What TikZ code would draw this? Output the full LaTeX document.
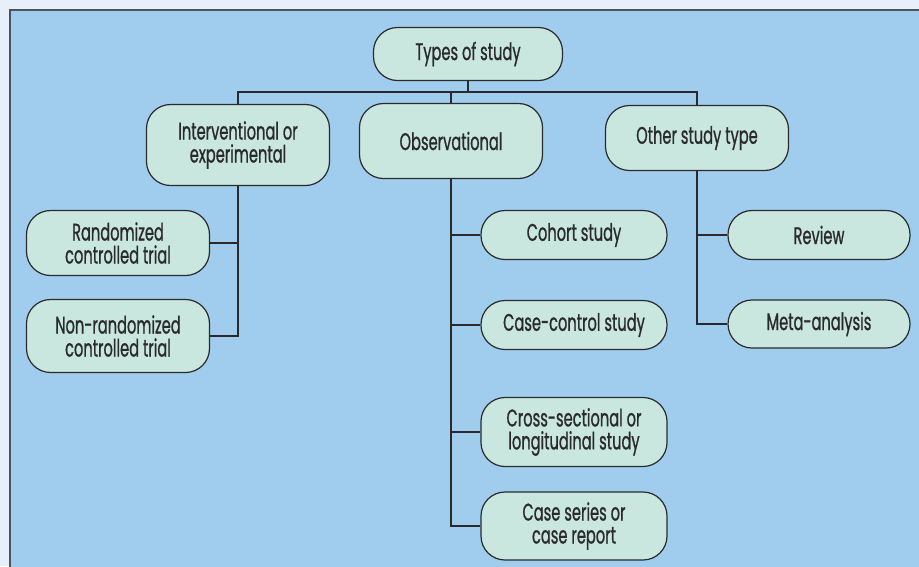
\documentclass[tikz,border=0pt]{standalone}
\usepackage{fontspec}
\setmainfont{Poppins}[FakeStretch=0.61,FakeBold=0.8]
\usetikzlibrary{calc}
\definecolor{pagebg}{HTML}{E7F0FA}
\definecolor{panelbg}{HTML}{A0CDEE}
\definecolor{panelline}{HTML}{4B545C}
\definecolor{boxfill}{HTML}{C9E7DF}
\definecolor{inkdark}{HTML}{2A2A2C}

\begin{document}
\begin{tikzpicture}[x=1pt,y=-1pt,
  studybox/.style={draw=inkdark,fill=boxfill,line width=1.2pt,rounded corners=24pt,
    minimum width=183pt,align=center,text=inkdark,inner sep=0pt,
    font=\fontsize{24}{23}\selectfont},
  link/.style={draw=inkdark,line width=1.2pt}]
  % 背景与面板
  \useasboundingbox (0,0) rectangle (919,566);
  \fill[pagebg] (0,0) rectangle (919,566);
  \fill[panelbg] (10,10) rectangle (925,572);
  \draw[panelline,line width=2pt] (10,572) -- (10,10) -- (925,10);
  % 第一层
  \node[studybox,minimum width=189pt,minimum height=53pt] (root) at (468,54) {Types of study};
  % 第二层
  \node[studybox,minimum height=81pt] (interv) at (238,145) {Interventional or\\experimental};
  \node[studybox,minimum height=75pt] (observ) at (451,141) {Observational};
  \node[studybox,minimum height=65pt] (other) at (697,138) {Other study type};
  % 第三层
  \node[studybox,minimum height=65pt] (rct) at (118,243) {Randomized\\controlled trial};
  \node[studybox,minimum height=73pt] (nrct) at (118,336) {Non-randomized\\controlled trial};
  \node[studybox,minimum width=186pt,minimum height=49pt] (cohort) at (574,235) {Cohort study};
  \node[studybox,minimum width=186pt,minimum height=49pt] (casectl) at (574,325) {Case-control study};
  \node[studybox,minimum width=186pt,minimum height=69pt] (cross) at (574,432) {Cross-sectional or\\longitudinal study};
  \node[studybox,minimum width=186pt,minimum height=68pt] (series) at (574,526) {Case series or\\case report};
  \node[studybox,minimum width=182pt,minimum height=49pt] (review) at (819,235) {Review};
  \node[studybox,minimum width=182pt,minimum height=48pt] (meta) at (819,324) {Meta-analysis};
  % 总线
  \coordinate (bus) at (0,92);
  \draw[link] (root.south) -- (root.south |- bus);
  \draw[link] (interv.north) |- (bus -| other.north) -- (other.north);
  \draw[link] (observ.north |- bus) -- (observ.north);
  % 分支
  \draw[link] (interv.south) |- (nrct.east);
  \draw[link] (interv.south |- rct.east) -- (rct.east);
  \draw[link] (observ.south) |- (series.west);
  \foreach \kid in {cohort,casectl,cross}
    \draw[link] (observ.south |- \kid.west) -- (\kid.west);
  \draw[link] (other.south) |- (meta.west);
  \draw[link] (other.south |- review.west) -- (review.west);
\end{tikzpicture}
\end{document}
